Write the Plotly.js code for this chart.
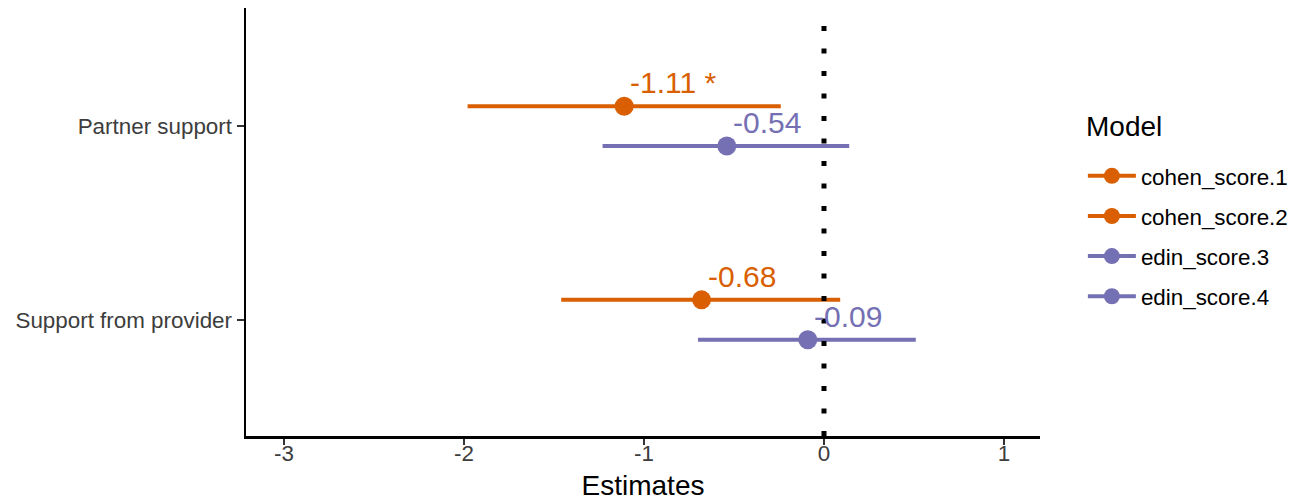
<!DOCTYPE html>
<html>
<head>
<meta charset="utf-8">
<script src="https://cdn.plot.ly/plotly-3.0.1.min.js"></script>
<style>html,body{margin:0;padding:0;background:#fff;}#chart{width:1307px;height:501px;}</style>
</head>
<body>
<div id="chart"></div>
<script>
// Terms (y categories, bottom to top)
const terms = ["Support from provider", "Partner support"];
// Models (legend entries)
const models = ["cohen_score.1", "cohen_score.2", "edin_score.3", "edin_score.4"];
const modelTerm = ["Partner support", "Support from provider", "Partner support", "Support from provider"];
const estimates = [-1.11, -0.68, -0.54, -0.09];
const ciLow = [-1.98, -1.46, -1.23, -0.70];
const ciHigh = [-0.24, 0.09, 0.14, 0.51];
const estLabels = ["-1.11 *", "-0.68", "-0.54", "-0.09"];
const modelColors = ["#D95F02", "#D95F02", "#7570B3", "#7570B3"];
const modelDodge = [1, 1, -1, -1];

const xTickVals = [-3, -2, -1, 0, 1];
const xTickText = ["-3", "-2", "-1", "0", "1"];
const legendTitle = "Model";
const xTitle = "Estimates";

const FONT = "Liberation Sans, Arial, sans-serif";
const dodgeStep = 0.103;

const traces = [];
const annotations = [];
models.forEach((m, i) => {
  const yPos = terms.indexOf(modelTerm[i]) + 1 + modelDodge[i] * dodgeStep;
  traces.push({
    type: "scatter",
    mode: "lines+markers",
    name: m,
    legendgroup: m,
    x: [estimates[i]],
    y: [yPos],
    marker: {color: modelColors[i], size: 19, line: {width: 0}},
    line: {color: modelColors[i], width: 4},
    error_x: {
      type: "data", symmetric: false,
      array: [ciHigh[i] - estimates[i]],
      arrayminus: [estimates[i] - ciLow[i]],
      color: modelColors[i], thickness: 4, width: 0
    },
    hoverinfo: "x+name"
  });
  annotations.push({
    x: estimates[i], y: yPos, xref: "x", yref: "y",
    text: estLabels[i], showarrow: false,
    xanchor: "left", yanchor: "bottom",
    xshift: 4, yshift: 5,
    font: {family: FONT, size: 30, color: modelColors[i]}
  });
});

// legend title drawn as a text annotation
annotations.push({
  x: 1.0555, y: 0.722, xref: "paper", yref: "paper",
  xanchor: "left", yanchor: "middle", showarrow: false,
  text: legendTitle,
  font: {family: FONT, size: 28, color: "#000"}
});

const layout = {
  width: 1307, height: 501,
  margin: {l: 246, r: 267, t: 8, b: 65},
  paper_bgcolor: "#ffffff", plot_bgcolor: "#ffffff",
  font: {family: FONT, color: "#000"},
  showlegend: true,
  xaxis: {
    range: [-3.211, 1.2],
    tickvals: xTickVals, ticktext: xTickText,
    showgrid: false, zeroline: false,
    showline: true, linecolor: "#000", linewidth: 2.5,
    ticks: "outside", ticklen: 6, tickwidth: 2.5, tickcolor: "#333",
    ticklabelstandoff: -10,
    tickfont: {family: FONT, size: 22.4, color: "#3d3d3d"},
    title: {text: xTitle, font: {family: FONT, size: 28, color: "#000"}, standoff: 12}
  },
  yaxis: {
    range: [0.4, 2.61],
    tickvals: [1, 2], ticktext: terms,
    showgrid: false, zeroline: false,
    showline: true, linecolor: "#000", linewidth: 2.5,
    ticks: "outside", ticklen: 7, tickwidth: 2.5, tickcolor: "#333",
    tickfont: {family: FONT, size: 22.4, color: "#3d3d3d"}
  },
  legend: {
    x: 1.054, xanchor: "left", y: 0.657, yanchor: "top",
    font: {family: FONT, size: 22.4, color: "#000"},
    tracegroupgap: 8,
    itemwidth: 48,
    bgcolor: "rgba(0,0,0,0)"
  },
  shapes: [{
    type: "line", xref: "x", yref: "paper",
    x0: 0, x1: 0, y0: 0, y1: 0.96,
    line: {color: "#000", width: 5, dash: "5px,17.5px"},
    layer: "above"
  }],
  annotations: annotations
};

Plotly.newPlot("chart", traces, layout, {displayModeBar: false, staticPlot: true});
</script>
</body>
</html>
